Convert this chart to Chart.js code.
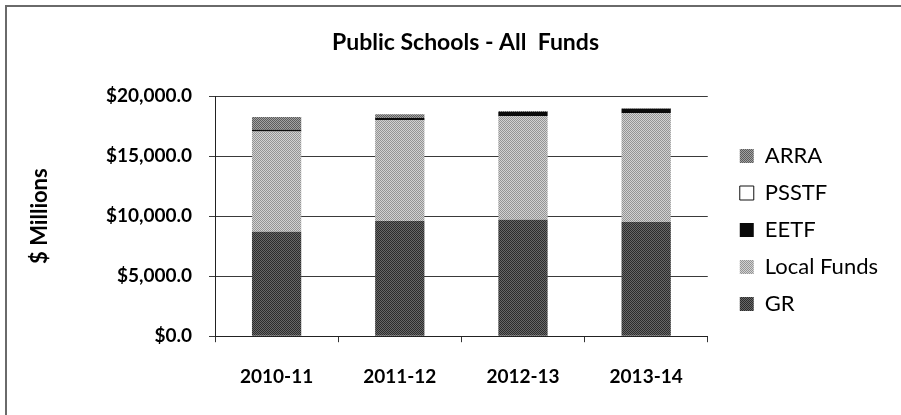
<!DOCTYPE html>
<html>
<head>
<meta charset="utf-8">
<script src="https://cdn.jsdelivr.net/npm/chart.js@4.4.1/dist/chart.umd.min.js"></script>
<style>
  html, body { margin: 0; padding: 0; background: #fff; }
  #wrap { position: relative; width: 901px; height: 415px; overflow: hidden; }
  #frame { position: absolute; left: 5px; top: 5px; width: 960px; height: 460px;
           border-left: 2px solid #6a6a6a; border-top: 2px solid #6a6a6a; }
  canvas { position: absolute; left: 0; top: 0; }
</style>
</head>
<body>
<div id="wrap">
  <div id="frame"></div>
  <canvas id="c" width="901" height="415"></canvas>
</div>
<script>
// Fiscal years on the category axis
const years = ['2010-11', '2011-12', '2012-13', '2013-14'];

// Funding sources, $ millions (stacked bottom to top)
const gr         = [8700, 9600, 9700, 9500];
const localFunds = [8350, 8380, 8630, 9080];
const eetf       = [140, 180, 330, 350];
const psstf      = [0, 0, 0, 0];
const arra       = [1070, 320, 90, 40];

const yTicks = [0, 5000, 10000, 15000, 20000];

const money = v => '$' + v.toLocaleString('en-US', { minimumFractionDigits: 1, maximumFractionDigits: 1 });

// Two-tone halftone fill, like a printed greyscale report
function halftone(dark, light) {
  const p = document.createElement('canvas');
  p.width = 2; p.height = 2;
  const g = p.getContext('2d');
  g.fillStyle = light; g.fillRect(0, 0, 2, 2);
  g.fillStyle = dark; g.fillRect(0, 0, 1, 1); g.fillRect(1, 1, 1, 1);
  return g.createPattern(p, 'repeat');
}

// Nudge the title and legend blocks after Chart.js lays out the boxes
const blockOffsets = {
  id: 'blockOffsets',
  afterLayout(chart) {
    const t = chart.titleBlock;
    if (t) { t.left += 30; t.right += 30; }
    const l = chart.legend;
    if (l) { l.left += 17; l.right += 17; l.top += 24; l.bottom += 24; }
  }
};

new Chart(document.getElementById('c'), {
  type: 'bar',
  data: {
    labels: years,
    datasets: [
      { label: 'GR',          data: gr,         backgroundColor: halftone('#2c2c2c', '#686868'), borderWidth: 0 },
      { label: 'Local Funds', data: localFunds, backgroundColor: halftone('#949494', '#d2d2d2'), borderWidth: 0 },
      { label: 'EETF',        data: eetf,       backgroundColor: '#0a0a0a', borderWidth: 0 },
      { label: 'PSSTF',       data: psstf,      backgroundColor: '#ffffff', borderColor: '#111', borderWidth: 1 },
      { label: 'ARRA',        data: arra,       backgroundColor: halftone('#5c5c5c', '#a2a2a2'), borderWidth: 0 }
    ]
  },
  options: {
    responsive: false,
    animation: false,
    devicePixelRatio: 1,
    layout: { padding: { left: 0, right: 30, top: 0, bottom: 3 } },
    datasets: { bar: { categoryPercentage: 1.0, barPercentage: 0.4 } },
    plugins: {
      tooltip: { enabled: false },
      title: {
        display: true,
        text: 'Public Schools - All  Funds',
        color: '#000',
        font: { family: 'Lato', size: 23, weight: 'bold' },
        padding: { top: 29, bottom: 39.4 }
      },
      legend: {
        position: 'right',
        reverse: true,
        labels: {
          color: '#000',
          font: { family: 'Lato', size: 22 },
          boxWidth: 14,
          boxHeight: 14,
          padding: 15
        }
      }
    },
    scales: {
      x: {
        stacked: true,
        offset: true,
        grid: { display: true, drawOnChartArea: false, drawTicks: true, offset: true, tickLength: 6, color: '#333' },
        border: { display: true, color: '#222', width: 1 },
        ticks: { color: '#000', font: { family: 'Lato', size: 19, weight: 'bold' }, padding: 23.5 }
      },
      y: {
        stacked: true,
        min: 0,
        max: 20000,
        afterFit: s => { s.width = 215; },
        afterBuildTicks: s => { s.ticks = yTicks.map(v => ({ value: v })); },
        grid: { color: '#3a3a3a', lineWidth: 1, tickLength: 6 },
        border: { display: true, color: '#222', width: 1 },
        ticks: {
          color: '#000',
          font: { family: 'Lato', size: 19, weight: 'bold' },
          padding: 17,
          callback: v => money(v)
        },
        title: {
          display: true,
          text: '$ Millions',
          color: '#000',
          font: { family: 'Lato', size: 22, weight: 'bold' },
          padding: { top: 27, bottom: 0 }
        }
      }
    }
  },
  plugins: [blockOffsets]
});
</script>
</body>
</html>
